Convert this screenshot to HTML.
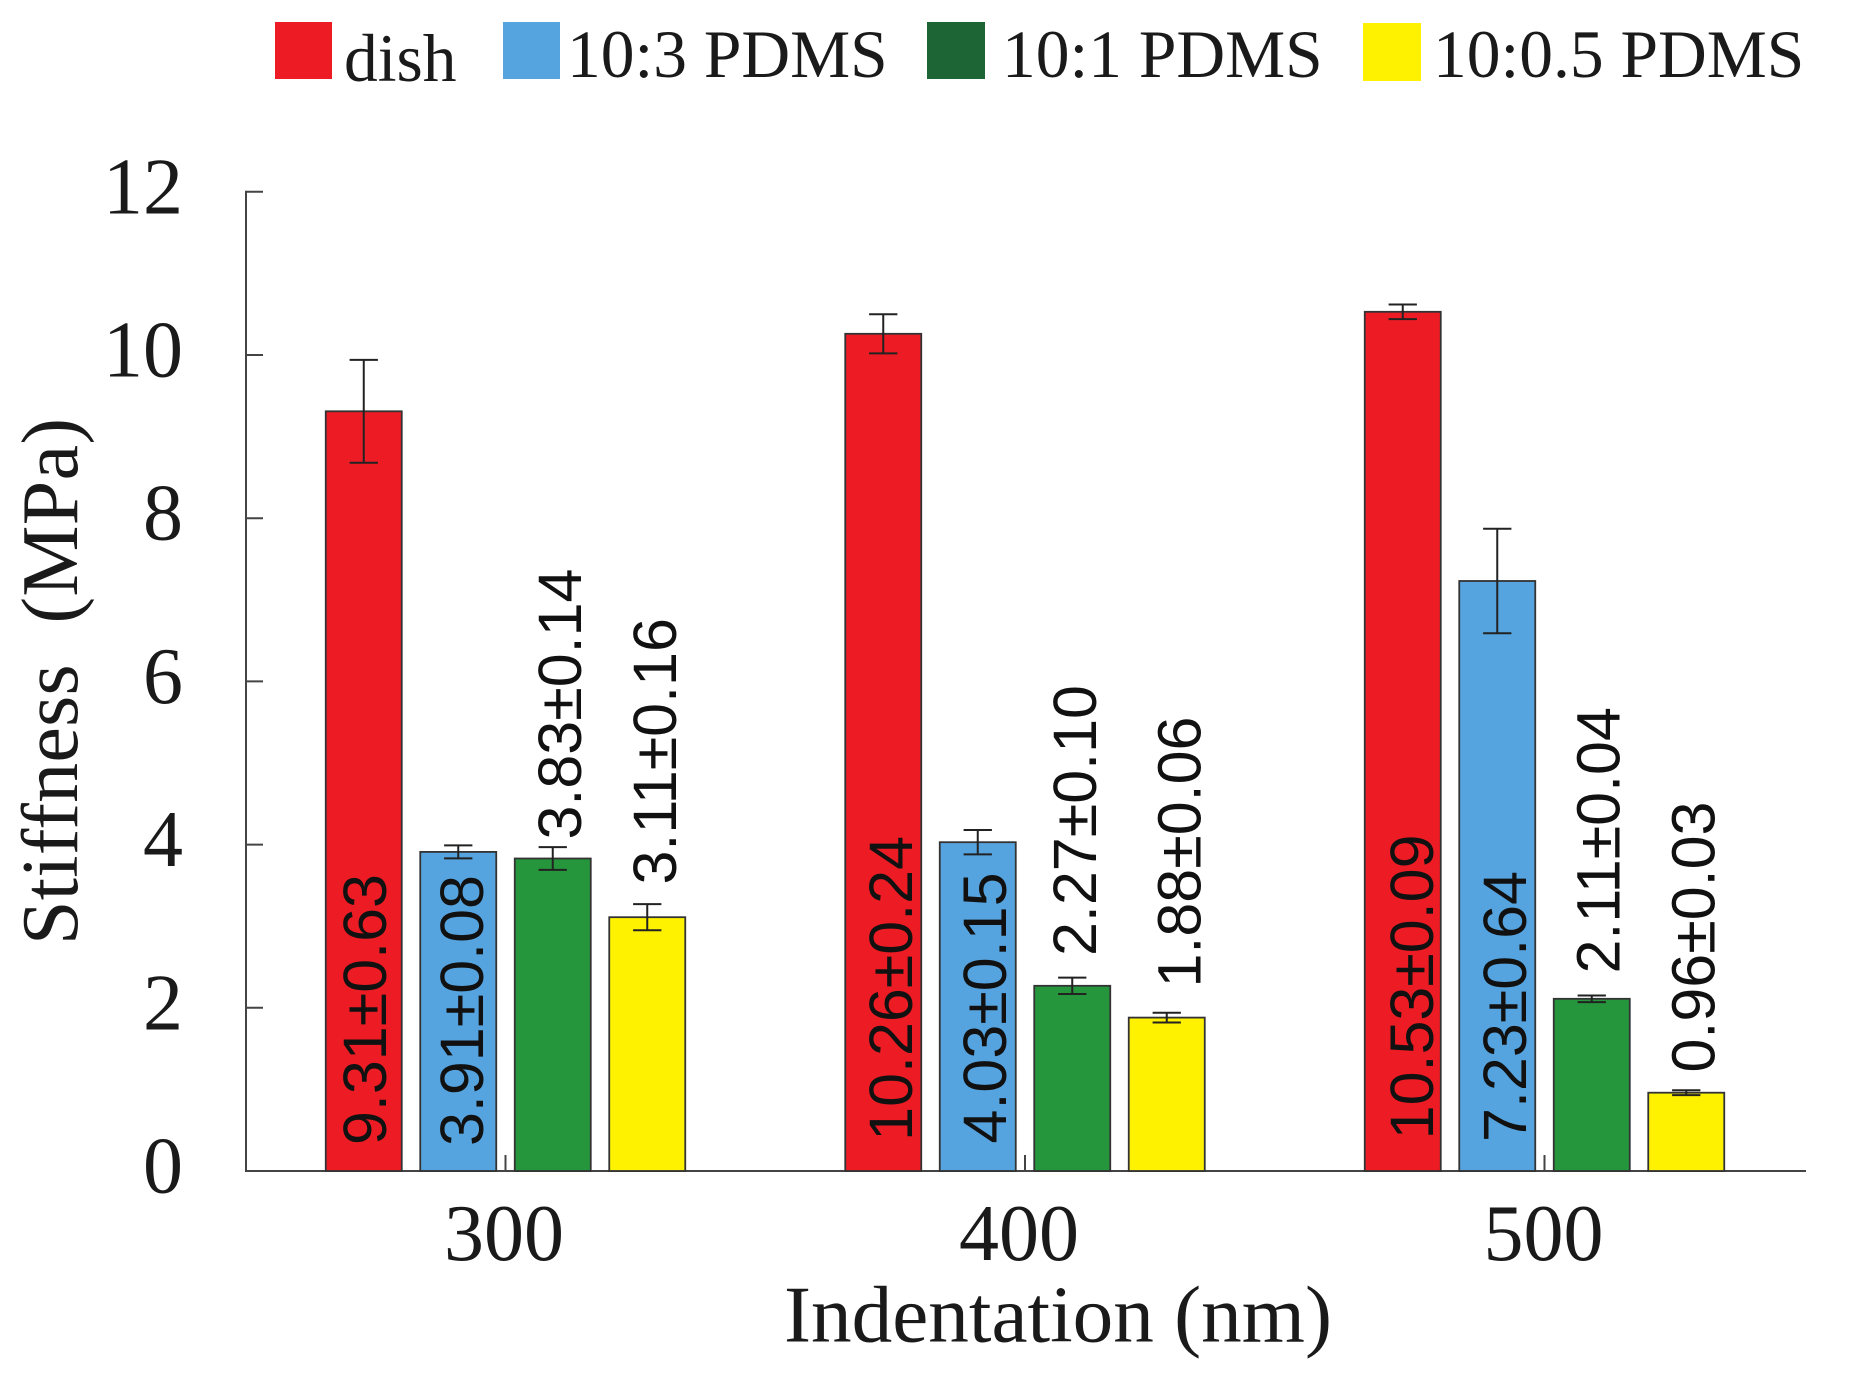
<!DOCTYPE html>
<html>
<head>
<meta charset="utf-8">
<style>
  html, body { margin: 0; padding: 0; background: #ffffff; }
  svg { display: block; }
  .serif { font-family: "Liberation Serif", "Times New Roman", serif; fill: #1a1a1a; }
  .sans { font-family: "Liberation Sans", Arial, sans-serif; fill: #111111; }
</style>
</head>
<body>
<svg width="1864" height="1380" viewBox="0 0 1864 1380" xmlns="http://www.w3.org/2000/svg">
  <rect x="0" y="0" width="1864" height="1380" fill="#ffffff"/>

  <!-- Legend -->
  <rect x="275" y="22" width="57" height="57" fill="#ED1C24"/>
  <text class="serif" x="344" y="81" font-size="67.5">dish</text>
  <rect x="503" y="22" width="57" height="57" fill="#56A4DF"/>
  <text class="serif" x="567" y="77" font-size="67.5">10:3 PDMS</text>
  <rect x="927" y="22" width="58" height="57" fill="#1E6535"/>
  <text class="serif" x="1002" y="77" font-size="67.5">10:1 PDMS</text>
  <rect x="1363" y="23" width="58" height="58" fill="#FFF200"/>
  <text class="serif" x="1433" y="77" font-size="67.5">10:0.5 PDMS</text>

  <!-- Axes -->
  <g stroke="#444444" stroke-width="2" fill="none">
    <line x1="246" y1="190.8" x2="246" y2="1172"/>
    <line x1="245" y1="1171" x2="1806" y2="1171"/>
    <line x1="246" y1="1171" x2="263" y2="1171"/>
    <line x1="246" y1="1007.8" x2="263" y2="1007.8"/>
    <line x1="246" y1="844.6" x2="263" y2="844.6"/>
    <line x1="246" y1="681.4" x2="263" y2="681.4"/>
    <line x1="246" y1="518.2" x2="263" y2="518.2"/>
    <line x1="246" y1="355" x2="263" y2="355"/>
    <line x1="246" y1="191.8" x2="263" y2="191.8"/>
    <line x1="505.5" y1="1155" x2="505.5" y2="1171"/>
    <line x1="1025" y1="1155" x2="1025" y2="1171"/>
    <line x1="1544.5" y1="1155" x2="1544.5" y2="1171"/>
  </g>

  <!-- Y tick labels -->
  <g class="serif" font-size="80" text-anchor="end">
    <text x="183" y="1192.5">0</text>
    <text x="183" y="1029.3">2</text>
    <text x="183" y="866.1">4</text>
    <text x="183" y="702.9">6</text>
    <text x="183" y="539.7">8</text>
    <text x="183" y="376.5">10</text>
    <text x="183" y="213.3">12</text>
  </g>

  <!-- Y axis title -->
  <text class="serif" font-size="80" style="white-space:pre" textLength="527" lengthAdjust="spacing" transform="translate(77,945) rotate(-90)">Stiffness  (MPa)</text>

  <!-- X tick labels -->
  <g class="serif" font-size="80" text-anchor="middle">
    <text x="504" y="1260">300</text>
    <text x="1019" y="1260">400</text>
    <text x="1543.5" y="1260">500</text>
  </g>
  <!-- X axis title -->
  <text class="serif" x="1058" y="1341.5" font-size="81" text-anchor="middle" textLength="548" lengthAdjust="spacingAndGlyphs">Indentation (nm)</text>

  <!-- Bars -->
  <g stroke="#333333" stroke-width="1.8">
    <!-- Group 300 -->
    <rect x="325.75" y="411.3" width="76" height="759.7" fill="#ED1C24"/>
    <rect x="420.25" y="851.9" width="76" height="319.1" fill="#56A4DF"/>
    <rect x="514.75" y="858.5" width="76" height="312.5" fill="#25963C"/>
    <rect x="609.25" y="917.2" width="76" height="253.8" fill="#FFF200"/>
    <!-- Group 400 -->
    <rect x="845.25" y="333.8" width="76" height="837.2" fill="#ED1C24"/>
    <rect x="939.75" y="842.2" width="76" height="328.8" fill="#56A4DF"/>
    <rect x="1034.25" y="985.8" width="76" height="185.2" fill="#25963C"/>
    <rect x="1128.75" y="1017.6" width="76" height="153.4" fill="#FFF200"/>
    <!-- Group 500 -->
    <rect x="1364.75" y="311.8" width="76" height="859.2" fill="#ED1C24"/>
    <rect x="1459.25" y="581.0" width="76" height="590.0" fill="#56A4DF"/>
    <rect x="1553.75" y="998.8" width="76" height="172.2" fill="#25963C"/>
    <rect x="1648.25" y="1092.7" width="76" height="78.3" fill="#FFF200"/>
  </g>

  <!-- Error bars -->
  <g stroke="#222222" stroke-width="2" fill="none">
    <!-- G1 -->
    <path d="M363.75 359.9 V462.7 M349.6 359.9 H377.9 M349.6 462.7 H377.9"/>
    <path d="M458.25 845.4 V858.4 M444.1 845.4 H472.4 M444.1 858.4 H472.4"/>
    <path d="M552.75 847.1 V869.9 M538.6 847.1 H566.9 M538.6 869.9 H566.9"/>
    <path d="M647.25 904.1 V930.3 M633.1 904.1 H661.4 M633.1 930.3 H661.4"/>
    <!-- G2 -->
    <path d="M883.25 314.2 V353.4 M869.1 314.2 H897.4 M869.1 353.4 H897.4"/>
    <path d="M977.75 830.0 V854.4 M963.6 830.0 H991.9 M963.6 854.4 H991.9"/>
    <path d="M1072.25 977.6 V994.0 M1058.1 977.6 H1086.4 M1058.1 994.0 H1086.4"/>
    <path d="M1166.75 1012.7 V1022.5 M1152.6 1012.7 H1180.9 M1152.6 1022.5 H1180.9"/>
    <!-- G3 -->
    <path d="M1402.75 304.5 V319.1 M1388.6 304.5 H1416.9 M1388.6 319.1 H1416.9"/>
    <path d="M1497.25 528.8 V633.2 M1483.1 528.8 H1511.4 M1483.1 633.2 H1511.4"/>
    <path d="M1591.75 995.5 V1002.1 M1577.6 995.5 H1605.9 M1577.6 1002.1 H1605.9"/>
    <path d="M1686.25 1090.3 V1095.1 M1672.1 1090.3 H1700.4 M1672.1 1095.1 H1700.4"/>
  </g>

  <!-- Value labels (rotated) -->
  <g class="sans" font-size="61">
    <text transform="translate(386.2,1145) rotate(-90)">9.31±0.63</text>
    <text transform="translate(482.8,1146) rotate(-90)">3.91±0.08</text>
    <text transform="translate(581.2,839.5) rotate(-90)">3.83±0.14</text>
    <text transform="translate(676.2,884.5) rotate(-90)">3.11±0.16</text>

    <text text-anchor="end" transform="translate(912.2,836) rotate(-90)">10.26±0.24</text>
    <text text-anchor="end" transform="translate(1006.2,872.5) rotate(-90)">4.03±0.15</text>
    <text transform="translate(1096.2,956) rotate(-90)">2.27±0.10</text>
    <text transform="translate(1200.5,987.5) rotate(-90)">1.88±0.06</text>

    <text text-anchor="end" transform="translate(1432.8,834.5) rotate(-90)">10.53±0.09</text>
    <text text-anchor="end" transform="translate(1526.2,871) rotate(-90)">7.23±0.64</text>
    <text transform="translate(1619.5,973.5) rotate(-90)">2.11±0.04</text>
    <text transform="translate(1714.5,1072.5) rotate(-90)">0.96±0.03</text>
  </g>
</svg>
</body>
</html>
